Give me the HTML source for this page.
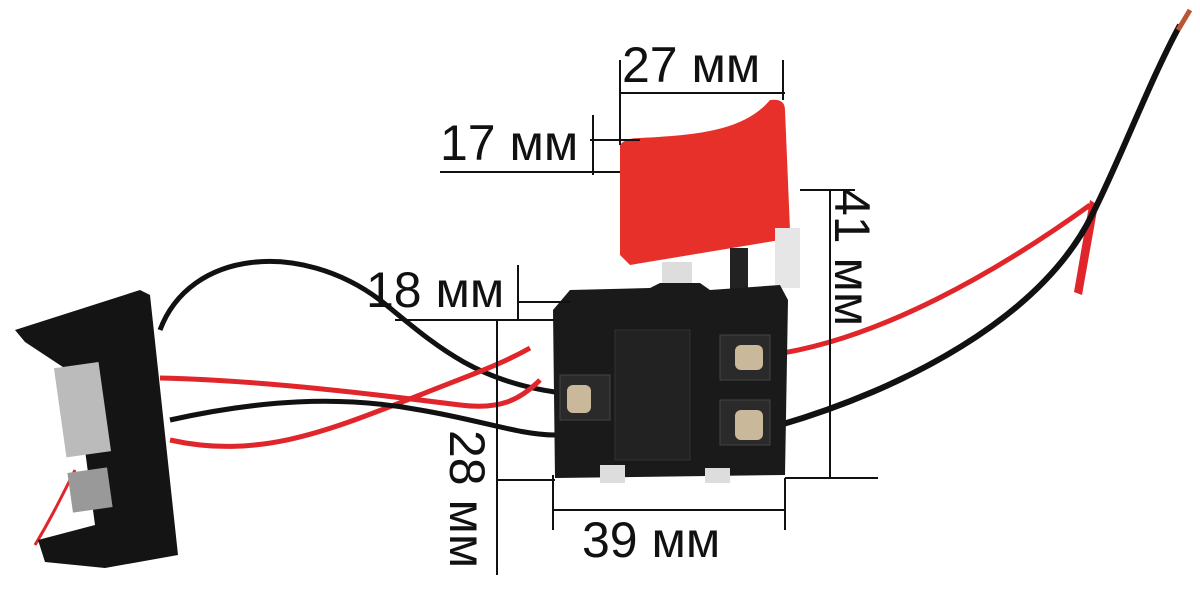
<!DOCTYPE html>
<html><head><meta charset="utf-8"><style>
html,body{margin:0;padding:0;background:#fff;}
svg{display:block}
text{font-family:"Liberation Sans",sans-serif;font-size:50px;fill:#111}
</style></head><body>
<svg width="1200" height="615" viewBox="0 0 1200 615" xmlns="http://www.w3.org/2000/svg">
<rect width="1200" height="615" fill="#fff"/>
<path d="M160,330 C190,250 300,240 380,300 C430,340 470,380 555,392" stroke="#111" stroke-width="5" fill="none"/>
<path d="M170,440 C260,460 330,430 420,395 C470,375 500,365 530,348" stroke="#e0262b" stroke-width="5" fill="none"/>
<path d="M160,378 C260,380 380,395 460,405 C500,410 520,400 540,380" stroke="#e0262b" stroke-width="5" fill="none"/>
<path d="M170,420 C260,400 340,395 420,410 C480,420 520,435 555,435" stroke="#111" stroke-width="5" fill="none"/>
<path d="M75,470 C60,500 50,520 35,545" stroke="#e0262b" stroke-width="3" fill="none"/>
<path d="M770,355 C880,340 1000,270 1090,205" stroke="#e0262b" stroke-width="5" fill="none"/>
<path d="M1090,200 L1098,205 L1082,295 L1074,292 Z" fill="#e0262b"/>
<path d="M780,425 C900,390 1040,320 1092,215 C1120,160 1150,80 1180,25" stroke="#111" stroke-width="6" fill="none"/>
<path d="M1178,30 L1190,10" stroke="#b53" stroke-width="5"/>
<path d="M15,330 L140,290 L150,295 L178,555 L105,568 L45,562 L38,540 L95,525 L75,375 L25,342 Z" fill="#141414"/>
<rect x="60" y="365" width="45" height="90" fill="#bbb" transform="rotate(-8 80 410)"/>
<rect x="70" y="470" width="40" height="40" fill="#999" transform="rotate(-8 90 490)"/>
<path d="M620,145 Q625,138 640,138 C700,135 745,130 770,100 Q785,98 785,110 L790,230 L780,240 L720,250 L630,265 L620,255 Z" fill="#e8302a"/>
<rect x="662" y="262" width="30" height="35" fill="#ddd"/>
<rect x="775" y="228" width="25" height="60" fill="#e6e6e6"/>
<rect x="730" y="248" width="18" height="55" fill="#222"/>
<path d="M570,290 L650,288 L660,283 L700,283 L710,290 L780,285 L788,300 L785,475 L555,478 L553,310 Z" fill="#1a1a1a"/>
<rect x="600" y="465" width="25" height="18" fill="#ddd"/>
<rect x="705" y="468" width="25" height="15" fill="#ddd"/>
<rect x="615" y="330" width="75" height="130" fill="#222" stroke="#333"/>
<rect x="720" y="335" width="50" height="45" fill="#2a2a2a" stroke="#444"/>
<rect x="720" y="400" width="50" height="45" fill="#2a2a2a" stroke="#444"/>
<rect x="735" y="345" width="28" height="25" rx="6" fill="#c9b89a"/>
<rect x="735" y="410" width="28" height="30" rx="6" fill="#c9b89a"/>
<rect x="560" y="375" width="50" height="45" fill="#2a2a2a" stroke="#444"/>
<rect x="567" y="385" width="24" height="28" rx="6" fill="#c9b89a"/>
<g stroke="#111" stroke-width="2" fill="none">
<path d="M620,93 H785 M620,60 V145 M783,60 V100"/>
<path d="M593,115 V175 M590,140 H640 M440,172 H620"/>
<path d="M518,265 V320 M518,302 H570 M395,320 H555"/>
<path d="M830,190 V478 M800,190 H855 M785,478 H878"/>
<path d="M497,320 V575 M497,480 H555"/>
<path d="M553,475 V530 M785,478 V530 M553,510 H785"/>
</g>
<text x="622" y="82">27 мм</text>
<text x="440" y="160">17 мм</text>
<text x="366" y="307">18 мм</text>
<text x="582" y="557">39 мм</text>
<text transform="translate(835,188) rotate(90)">41 мм</text>
<text transform="translate(450,430) rotate(90)">28 мм</text>
</svg>
</body></html>
